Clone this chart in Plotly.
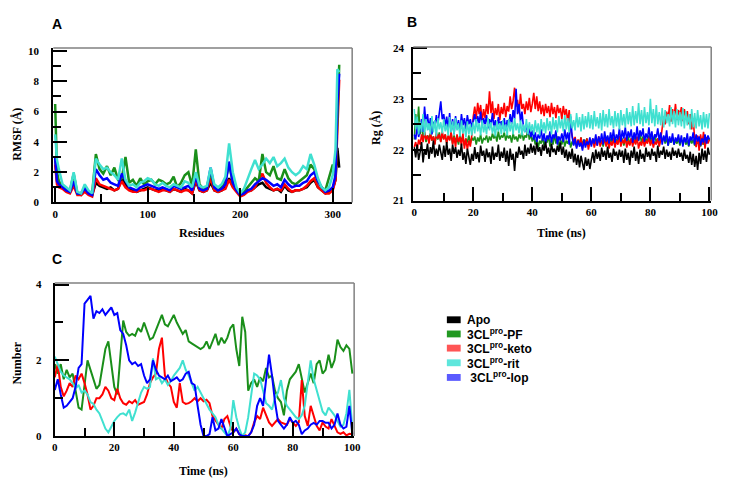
import plotly.graph_objects as go

W, H = 733, 490

# ---------------- Panel A: RMSF per residue ----------------
residues = [0, 2, 4, 8, 12, 16, 20, 24, 28, 32,
            36, 40, 44, 48, 52, 56, 60, 64, 68, 72,
            76, 80, 84, 88, 92, 96, 100, 104, 108, 112,
            116, 120, 124, 128, 132, 136, 140, 144, 148, 152,
            156, 160, 164, 168, 172, 176, 180, 184, 188, 192,
            196, 200, 204, 208, 212, 216, 220, 224, 228, 232,
            236, 240, 244, 248, 252, 256, 260, 264, 268, 272,
            276, 280, 284, 288, 292, 296, 300, 303, 305, 307]

rmsf_apo = [3.0, 1.5, 1.1, 1.0, 0.8, 0.7, 1.2, 0.6, 0.5, 0.8,
            0.6, 0.5, 1.3, 1.1, 1.0, 0.9, 1.0, 0.8, 0.9, 1.6,
            1.2, 0.9, 0.8, 0.7, 0.8, 0.9, 1.0, 0.9, 0.8, 0.8,
            0.9, 0.8, 0.7, 0.9, 0.8, 0.7, 0.9, 0.8, 0.6, 1.4,
            0.8, 0.7, 0.8, 1.3, 0.8, 0.7, 0.8, 1.0, 1.6, 1.1,
            0.8, 0.5, 0.6, 0.8, 0.8, 1.0, 1.2, 1.3, 1.0, 0.9,
            0.8, 0.9, 0.7, 1.1, 0.8, 0.7, 0.8, 0.8, 0.9, 1.0,
            1.3, 1.5, 1.0, 0.8, 0.6, 0.7, 0.9, 1.5, 3.6, 2.3]

rmsf_keto = [2.5, 1.2, 1.0, 0.9, 0.7, 0.6, 1.1, 0.5, 0.5, 0.7,
             0.5, 0.4, 1.6, 1.2, 1.1, 1.0, 0.9, 0.8, 0.9, 1.4,
             1.0, 0.8, 0.7, 0.7, 0.8, 0.8, 0.9, 0.9, 0.8, 0.7,
             0.8, 0.8, 0.7, 0.9, 0.8, 0.7, 0.8, 0.8, 0.6, 1.5,
             0.8, 0.7, 0.8, 1.6, 0.8, 0.7, 0.8, 0.9, 1.5, 1.0,
             0.7, 0.4, 0.5, 0.7, 0.8, 1.0, 1.5, 1.9, 1.3, 1.0,
             0.8, 0.9, 0.8, 1.2, 0.9, 0.7, 0.8, 0.8, 0.9, 1.1,
             1.4, 1.6, 1.0, 0.8, 0.6, 0.6, 0.8, 1.5, 5.5, 8.1]

rmsf_pf = [6.5, 2.0, 1.4, 1.1, 0.9, 0.8, 1.9, 0.6, 0.6, 1.0,
           0.7, 0.6, 3.2, 2.2, 1.9, 2.4, 1.8, 2.3, 1.5, 1.6,
           3.0, 1.3, 1.5, 1.1, 1.6, 1.2, 1.4, 1.5, 1.2, 1.5,
           1.4, 1.2, 1.3, 1.7, 1.0, 1.3, 1.8, 2.0, 1.1, 3.5,
           1.2, 0.9, 1.0, 2.0, 1.0, 0.8, 1.0, 1.5, 2.5, 1.3,
           0.9, 0.5, 0.7, 1.0, 1.3, 1.6, 1.4, 3.2, 2.0, 1.8,
           2.4, 1.6, 1.5, 2.2, 1.6, 1.3, 1.2, 1.4, 1.6, 1.8,
           2.5, 2.2, 1.4, 1.0, 0.8, 1.6, 2.5, 2.0, 6.0, 9.1]

rmsf_lop = [3.0, 1.4, 1.2, 1.0, 0.8, 0.7, 1.4, 0.6, 0.6, 0.9,
            0.6, 0.5, 2.2, 1.8, 1.5, 1.6, 1.3, 1.2, 1.1, 1.9,
            1.4, 1.0, 0.9, 0.8, 1.0, 1.1, 1.2, 1.1, 1.0, 0.9,
            1.0, 0.9, 0.8, 1.1, 1.0, 0.9, 1.0, 1.1, 0.8, 1.7,
            0.9, 0.8, 0.9, 2.3, 1.0, 0.8, 0.9, 1.2, 2.7, 1.3,
            0.8, 0.5, 0.6, 0.8, 0.9, 1.2, 1.4, 1.6, 1.5, 1.3,
            1.1, 1.2, 1.0, 1.5, 1.2, 1.0, 1.1, 1.1, 1.3, 1.4,
            1.8, 2.0, 1.4, 1.0, 0.7, 0.8, 1.0, 1.8, 6.5, 8.5]

rmsf_rit = [4.5, 2.8, 2.2, 1.2, 1.0, 0.8, 2.0, 0.7, 0.6, 1.2,
            0.8, 0.6, 2.9, 2.5, 2.2, 2.3, 2.0, 1.8, 1.5, 2.9,
            1.5, 1.1, 1.2, 1.0, 1.3, 1.4, 1.6, 1.5, 1.2, 1.1,
            1.3, 1.1, 1.0, 1.2, 1.1, 1.0, 1.4, 1.3, 1.0, 2.0,
            1.1, 1.0, 1.1, 2.3, 1.2, 1.0, 1.2, 1.7, 3.9, 2.0,
            1.0, 0.6, 0.9, 1.6, 2.2, 2.8, 2.2, 2.5, 2.9, 2.6,
            3.0, 2.4, 2.6, 2.9, 2.3, 2.0, 1.8, 2.0, 2.4, 2.2,
            3.2, 2.5, 1.6, 1.0, 0.8, 1.0, 1.8, 3.5, 8.8, 8.6]

# ---------------- Panel B: Radius of gyration (0.5 ns steps) ----------------
rg_apo = [22.05, 21.85, 22.10, 21.80, 21.95, 22.15, 21.75, 22.00, 21.90, 22.12, 21.82, 22.05, 21.92, 22.18, 21.85, 22.02, 21.88, 22.10, 21.95, 21.80,
          22.08, 21.86, 22.15, 21.90, 22.02, 21.78, 22.10, 21.92, 22.05, 21.84, 22.00, 21.88, 22.12, 21.80, 21.95, 21.72, 22.02, 21.85, 21.70, 21.92,
          21.78, 22.05, 21.82, 21.95, 21.75, 22.08, 21.88, 21.98, 21.76, 22.02, 21.85, 21.95, 21.72, 22.06, 21.80, 21.94, 21.86, 22.10, 21.78, 21.96,
          21.84, 22.04, 21.76, 21.98, 21.68, 22.02, 21.80, 21.92, 21.58, 21.96, 21.84, 22.06, 21.90, 21.98, 21.82, 22.10, 21.88, 22.04, 21.92, 22.12,
          21.94, 22.08, 21.90, 22.14, 21.96, 22.05, 21.88, 22.10, 21.98, 22.16, 21.92, 22.04, 21.86, 22.12, 21.95, 22.02, 21.90, 22.08, 21.96, 22.14,
          21.90, 22.06, 21.84, 22.00, 21.78, 21.96, 21.82, 22.02, 21.75, 21.92, 21.70, 21.90, 21.65, 21.88, 21.72, 21.60, 21.85, 21.68, 21.82, 21.62,
          21.80, 21.95, 21.74, 22.00, 21.82, 21.96, 21.78, 22.04, 21.86, 21.98, 21.80, 22.06, 21.84, 21.94, 21.76, 22.02, 21.88, 21.96, 21.80, 22.00,
          21.86, 21.98, 21.74, 22.02, 21.80, 21.94, 21.70, 21.98, 21.84, 22.06, 21.78, 21.96, 21.72, 22.00, 21.82, 21.92, 21.76, 22.04, 21.86, 21.96,
          21.80, 22.02, 21.88, 21.96, 21.76, 22.08, 21.84, 21.98, 21.90, 22.06, 21.82, 22.00, 21.86, 21.96, 21.80, 22.04, 21.88, 21.98, 21.84, 22.02,
          21.86, 21.94, 21.78, 22.00, 21.82, 21.90, 21.74, 21.96, 21.70, 21.92, 21.66, 21.88, 21.60, 21.94, 21.72, 22.02, 21.80, 21.98, 21.76, 22.04,
          21.90]

rg_keto = [22.05, 22.15, 22.00, 22.20, 22.10, 22.30, 22.15, 22.35, 22.20, 22.28, 22.12, 22.32, 22.18, 22.26, 22.10, 22.34, 22.22, 22.30, 22.15, 22.36,
           22.20, 22.30, 22.12, 22.28, 22.18, 22.35, 22.10, 22.25, 22.05, 22.30, 22.15, 22.25, 22.08, 22.32, 22.02, 22.22, 22.00, 22.18, 22.06, 22.28,
           22.65, 22.85, 22.60, 22.92, 22.70, 22.88, 22.55, 22.80, 22.62, 22.90, 22.70, 23.15, 22.72, 22.95, 22.60, 22.82, 22.68, 22.90, 22.58, 22.84,
           22.70, 22.92, 22.64, 22.86, 22.75, 23.05, 22.80, 22.96, 23.22, 22.85, 22.98, 22.72, 23.10, 22.80, 22.90, 22.70, 22.95, 22.78, 23.02, 22.74,
           22.90, 23.12, 22.80, 23.05, 22.76, 22.95, 22.70, 22.88, 22.66, 22.90, 22.72, 22.86, 22.64, 22.92, 22.70, 22.84, 22.62, 22.88, 22.72, 22.82,
           22.60, 22.86, 22.68, 22.80, 22.55, 22.78, 22.40, 22.30, 22.15, 22.25, 22.05, 22.20, 22.10, 22.24, 22.02, 22.18, 22.08, 22.22, 22.00, 22.16,
           22.10, 22.22, 22.04, 22.18, 22.08, 22.26, 22.06, 22.18, 22.12, 22.24, 22.06, 22.20, 22.02, 22.16, 22.08, 22.22, 22.04, 22.18, 22.10, 22.26,
           22.06, 22.20, 22.12, 22.24, 22.04, 22.18, 22.08, 22.22, 22.06, 22.20, 22.10, 22.26, 22.02, 22.16, 22.08, 22.22, 22.06, 22.18, 22.12, 22.24,
           22.08, 22.20, 22.04, 22.16, 22.10, 22.22, 22.06, 22.20, 22.40, 22.65, 22.50, 22.75, 22.60, 22.88, 22.55, 22.80, 22.62, 22.90, 22.58, 22.78,
           22.66, 22.84, 22.56, 22.80, 22.64, 22.76, 22.50, 22.70, 22.40, 22.62, 22.20, 22.05, 22.28, 21.98, 22.30, 22.10, 22.35, 22.02, 22.25, 22.12,
           22.20]

rg_lop = [22.30, 22.20, 22.45, 22.25, 22.40, 22.60, 22.35, 22.85, 22.50, 22.70, 22.40, 22.62, 22.30, 22.55, 22.45, 22.68, 22.50, 22.75, 22.95, 22.60,
          22.70, 22.45, 22.65, 22.40, 22.72, 22.35, 22.60, 22.30, 22.66, 22.42, 22.58, 22.36, 22.70, 22.48, 22.62, 22.40, 22.68, 22.50, 22.60, 22.44,
          22.55, 22.70, 22.48, 22.66, 22.52, 22.75, 22.45, 22.62, 22.50, 22.68, 22.42, 22.60, 22.48, 22.72, 22.44, 22.58, 22.40, 22.64, 22.46, 22.56,
          22.42, 22.62, 22.38, 22.58, 22.45, 22.70, 22.50, 22.78, 22.60, 23.20, 22.70, 22.90, 22.55, 22.75, 22.45, 22.35, 22.50, 22.30, 22.42, 22.25,
          22.38, 22.20, 22.34, 22.15, 22.30, 22.22, 22.40, 22.18, 22.32, 22.12, 22.28, 22.20, 22.36, 22.14, 22.30, 22.22, 22.38, 22.10, 22.26, 22.18,
          22.32, 22.15, 22.40, 22.20, 22.34, 22.10, 22.65, 22.25, 22.08, 22.22, 22.02, 22.18, 22.06, 22.14, 21.98, 22.20, 22.04, 22.16, 22.10, 22.24,
          22.06, 22.22, 22.12, 22.30, 22.08, 22.26, 22.14, 22.32, 22.10, 22.36, 22.16, 22.28, 22.12, 22.34, 22.18, 22.40, 22.14, 22.30, 22.20, 22.42,
          22.16, 22.38, 22.22, 22.44, 22.18, 22.36, 22.24, 22.40, 22.14, 22.34, 22.20, 22.46, 22.18, 22.38, 22.26, 22.42, 22.16, 22.32, 22.22, 22.44,
          22.20, 22.36, 22.12, 22.30, 22.24, 22.42, 22.18, 22.34, 22.10, 22.28, 22.16, 22.38, 22.08, 22.26, 22.14, 22.32, 22.10, 22.24, 22.16, 22.30,
          22.12, 22.28, 22.06, 22.24, 22.14, 22.32, 22.08, 22.26, 22.18, 22.34, 22.10, 22.30, 22.16, 22.26, 22.08, 22.22, 22.14, 22.30, 22.12, 22.28,
          22.20]

rg_pf = [22.20, 22.70, 22.40, 22.85, 22.30, 22.55, 22.20, 22.35, 22.15, 22.28, 22.22, 22.32, 22.18, 22.26, 22.12, 22.30, 22.20, 22.34, 22.16, 22.28,
         22.22, 22.30, 22.14, 22.26, 22.20, 22.32, 22.12, 22.28, 22.18, 22.24, 22.10, 22.30, 22.16, 22.26, 22.08, 22.22, 22.14, 22.28, 22.12, 22.24,
         22.18, 22.26, 22.10, 22.24, 22.16, 22.30, 22.12, 22.22, 22.20, 22.28, 22.14, 22.26, 22.18, 22.32, 22.22, 22.30, 22.16, 22.36, 22.20, 22.28,
         22.24, 22.34, 22.18, 22.30, 22.22, 22.28, 22.14, 22.32, 22.20, 22.26, 22.16, 22.30, 22.22, 22.36, 22.18, 22.28, 22.24, 22.40, 22.20, 22.30,
         22.16, 22.26, 22.10, 22.22, 22.04, 22.18, 22.12, 22.24, 22.08, 22.20, 22.14, 22.28, 22.06, 22.22, 22.10, 22.30, 22.12, 22.26, 22.04, 22.20,
         22.10, 22.24, 22.06, 22.18, 22.12, 22.22, 22.04, 22.16, 22.10, 22.20, 22.06, 22.18, 22.12, 22.24, 22.08, 22.20, 22.14, 22.22, 22.06, 22.18,
         22.12, 22.20, 22.08, 22.24, 22.14, 22.22, 22.10, 22.18, 22.06, 22.20, 22.12, 22.26, 22.08, 22.22, 22.14, 22.24, 22.10, 22.20, 22.16, 22.26,
         22.12, 22.22, 22.08, 22.20, 22.14, 22.26, 22.10, 22.22, 22.16, 22.28, 22.12, 22.24, 22.18, 22.30, 22.14, 22.26, 22.10, 22.22, 22.16, 22.28,
         22.12, 22.24, 22.18, 22.30, 22.14, 22.22, 22.10, 22.20, 22.16, 22.26, 22.12, 22.22, 22.08, 22.20, 22.14, 22.24, 22.10, 22.18, 22.12, 22.22,
         22.08, 22.20, 22.14, 22.24, 22.10, 22.18, 22.06, 22.22, 22.12, 22.20, 22.08, 22.16, 22.12, 22.22, 22.06, 22.18, 22.10, 22.20, 22.14, 22.24,
         22.18]

rg_rit = [22.80, 22.40, 22.65, 22.30, 22.55, 22.35, 22.70, 22.28, 22.60, 22.38, 22.52, 22.30, 22.66, 22.34, 22.58, 22.26, 22.62, 22.40, 22.54, 22.32,
          22.60, 22.36, 22.50, 22.28, 22.64, 22.34, 22.56, 22.30, 22.62, 22.38, 22.52, 22.26, 22.58, 22.32, 22.48, 22.24, 22.56, 22.30, 22.50, 22.28,
          22.54, 22.32, 22.60, 22.36, 22.52, 22.28, 22.58, 22.34, 22.50, 22.30, 22.62, 22.38, 22.54, 22.32, 22.48, 22.26, 22.56, 22.36, 22.52, 22.30,
          22.58, 22.34, 22.50, 22.28, 22.60, 22.36, 22.54, 22.30, 22.62, 22.38, 22.52, 22.32, 22.58, 22.28, 22.50, 22.34, 22.60, 22.30, 22.54, 22.36,
          22.50, 22.30, 22.58, 22.34, 22.52, 22.28, 22.60, 22.36, 22.54, 22.32, 22.62, 22.38, 22.56, 22.30, 22.64, 22.40, 22.58, 22.34, 22.66, 22.42,
          22.60, 22.36, 22.68, 22.40, 22.62, 22.34, 22.70, 22.42, 22.58, 22.38, 22.72, 22.44, 22.64, 22.36, 22.70, 22.40, 22.66, 22.44, 22.74, 22.42,
          22.68, 22.40, 22.76, 22.46, 22.64, 22.42, 22.72, 22.38, 22.78, 22.46, 22.70, 22.44, 22.80, 22.48, 22.66, 22.42, 22.76, 22.46, 22.72, 22.40,
          22.78, 22.48, 22.70, 22.44, 22.82, 22.50, 22.74, 22.46, 22.86, 22.48, 22.76, 22.52, 22.92, 22.50, 22.78, 22.46, 22.84, 22.52, 22.74, 22.48,
          23.00, 22.52, 22.80, 22.46, 22.88, 22.50, 22.74, 22.48, 22.82, 22.44, 22.78, 22.52, 22.70, 22.46, 22.84, 22.50, 22.76, 22.44, 22.80, 22.48,
          22.74, 22.46, 22.82, 22.42, 22.76, 22.48, 22.70, 22.40, 22.80, 22.44, 22.72, 22.42, 22.78, 22.46, 22.68, 22.40, 22.74, 22.44, 22.70, 22.42,
          22.72]

# ---------------- Panel C: H-bond number (1 ns steps) ----------------
hb_pf = [1.9, 1.65, 1.9, 1.5, 1.75, 1.55, 1.65, 1.2, 0.75, 0.7,
         1.3, 2.0, 1.75, 1.5, 1.25, 1.35, 1.8, 2.3, 2.5, 1.9,
         1.3, 1.1, 2.2, 3.05, 2.75, 2.65, 2.7, 2.65, 2.85, 2.75,
         3.0, 2.75, 2.55, 2.6, 2.8, 2.95, 3.2, 2.95, 2.9, 3.05,
         3.2, 3.0, 2.85, 2.7, 2.8, 2.5, 2.45, 2.4, 2.35, 2.3,
         2.35, 2.5, 2.3, 2.5, 2.7, 2.4, 2.6, 2.45, 2.6, 2.85,
         2.95, 2.3, 1.85, 3.15, 2.75, 1.2, 1.4, 1.5, 1.3, 1.55,
         1.45, 1.8, 1.55, 1.6, 1.2, 1.0, 0.9, 0.55, 1.2, 1.5,
         1.6, 1.7, 1.9, 1.5, 1.15, 1.4, 1.65, 1.4, 1.9, 2.0,
         1.65, 1.75, 2.15, 1.8, 2.0, 2.55, 2.35, 2.25, 2.4, 2.3,
         1.65]

hb_keto = [1.55, 1.9, 1.3, 1.05, 1.2, 1.4, 1.3, 1.6, 1.5, 1.65,
           1.4, 1.1, 0.7, 0.8, 1.0, 1.0, 1.1, 1.3, 1.2, 1.0,
           0.95, 1.25, 1.0, 0.87, 0.83, 0.92, 0.87, 0.95, 0.83, 0.87,
           0.9, 1.1, 1.4, 1.55, 1.65, 2.3, 2.6, 1.6, 1.4, 1.3,
           0.9, 0.75, 1.4, 0.9, 0.85, 0.87, 0.92, 1.0, 0.92, 1.0,
           0.92, 0.96, 0.87, 0.53, 0.4, 0.3, 0.2, 0.45, 0.53, 0.27,
           0.1, 0.2, 0.05, 0.0, 0.02, 0.0, 0.1, 0.36, 0.53, 0.45,
           0.75, 0.57, 0.36, 0.27, 0.36, 0.45, 0.36, 0.32, 0.3, 0.45,
           0.36, 0.27, 0.36, 1.48, 0.53, 0.27, 0.8, 0.53, 0.27, 0.15,
           0.36, 0.25, 0.2, 0.45, 0.27, 0.1, 0.06, 0.1, 0.02, 0.06,
           0.05]

hb_rit = [2.1, 1.9, 1.7, 1.6, 1.55, 1.5, 1.4, 1.25, 1.35, 1.15,
          1.2, 1.1, 0.9, 0.85, 0.7, 0.6, 0.4, 0.2, 0.1, 0.25,
          0.4, 0.5, 0.58, 0.6, 0.55, 0.7, 0.4, 0.62, 0.87, 1.15,
          1.3, 1.25, 1.3, 2.05, 1.5, 1.55, 1.4, 1.5, 1.35, 1.45,
          1.6, 1.7, 1.8, 2.0, 1.75, 1.6, 1.4, 1.2, 1.3, 1.15,
          1.0, 0.85, 0.7, 0.6, 0.5, 0.3, 0.2, 0.1, 0.0, 0.2,
          0.95, 0.5, 0.2, 0.0, 0.1, 0.5, 1.1, 1.65, 1.6, 1.5,
          1.2, 0.87, 0.8, 0.7, 1.0, 1.15, 1.48, 1.0, 0.8, 0.7,
          0.6, 0.5, 0.45, 0.55, 0.8, 1.4, 2.0, 1.5, 1.2, 0.9,
          0.65, 0.55, 0.75, 0.65, 0.55, 0.4, 0.25, 0.3, 0.6, 1.22,
          0.2]

hb_lop = [1.22, 1.5, 1.1, 0.75, 0.8, 0.9, 1.0, 1.3, 1.8, 1.9,
          3.5, 3.6, 3.7, 3.1, 3.3, 3.25, 3.35, 3.2, 3.3, 3.4,
          3.2, 3.25, 2.8, 2.7, 2.4, 2.0, 1.9, 1.95, 1.85, 1.9,
          1.6, 1.4, 1.5, 2.0, 1.75, 1.6, 1.55, 1.5, 1.6, 1.45,
          1.5, 1.55, 1.45, 1.5, 1.65, 1.7, 1.4, 1.35, 0.8, 0.3,
          0.0, 0.0, 0.05, 0.5, 0.15, 0.2, 0.45, 0.2, 0.0, 0.05,
          0.1, 0.2, 0.05, 0.0, 0.0, 0.0, 0.1, 0.3, 0.8, 1.0,
          0.8, 1.4, 2.15, 1.6, 0.9, 0.4, 0.3, 0.2, 0.3, 0.5,
          0.35, 0.4, 0.3, 0.05, 0.15, 0.2, 0.3, 0.35, 0.3, 0.4,
          0.4, 0.35, 0.35, 0.2, 0.3, 0.6, 0.3, 0.2, 0.25, 0.8,
          0.05]

series_names = ["Apo", "3CL<sup>pro</sup>-PF", "3CL<sup>pro</sup>-keto",
                "3CL<sup>pro</sup>-rit", " 3CL<sup>pro</sup>-lop"]
line_colors = {"apo": "#000000", "pf": "#1a8f1a", "keto": "#ff0000",
               "rit": "#40e0d0", "lop": "#0000ff"}
legend_colors = ["#000000", "#229922", "#ff5555", "#5ee6dc", "#5a5aff"]


def px(x):
    return x / W


def py(y):
    return 1 - y / H


fig = go.Figure()

# Panel A
for vals, key in [(rmsf_apo, "apo"), (rmsf_keto, "keto"), (rmsf_pf, "pf"),
                  (rmsf_lop, "lop"), (rmsf_rit, "rit")]:
    fig.add_trace(go.Scatter(x=residues, y=vals, mode="lines",
                             line=dict(color=line_colors[key], width=2.5),
                             xaxis="x", yaxis="y", showlegend=False))

# Panel B
for vals, key in [(rg_pf, "pf"), (rg_keto, "keto"), (rg_lop, "lop"),
                  (rg_rit, "rit"), (rg_apo, "apo")]:
    t = [0.5 * i for i in range(len(vals))]
    fig.add_trace(go.Scatter(x=t, y=vals, mode="lines",
                             line=dict(color=line_colors[key], width=1.6),
                             xaxis="x2", yaxis="y2", showlegend=False))

# Panel C
for vals, key in [(hb_pf, "pf"), (hb_keto, "keto"), (hb_rit, "rit"), (hb_lop, "lop")]:
    t = list(range(len(vals)))
    fig.add_trace(go.Scatter(x=t, y=vals, mode="lines",
                             line=dict(color=line_colors[key], width=2),
                             xaxis="x3", yaxis="y3", showlegend=False))

tickfont = dict(family="Liberation Serif", size=11, color="black", weight="bold")


def ax(domain, rng, dtick, minor_dtick, tick0, anchor, standoff=None):
    d = dict(domain=domain, range=rng, dtick=dtick, tick0=tick0,
             showgrid=False, zeroline=False, showline=True,
             linecolor="black", linewidth=2, ticks="inside",
             ticklen=14, tickwidth=2, tickcolor="black",
             minor=dict(dtick=minor_dtick, tick0=tick0, ticks="inside",
                        ticklen=8, tickwidth=2, tickcolor="black", showgrid=False),
             tickfont=tickfont, anchor=anchor, fixedrange=True)
    if standoff is not None:
        d["ticklabelstandoff"] = standoff
    return d


fig.update_layout(
    width=W, height=H, autosize=False,
    margin=dict(l=0, r=0, t=0, b=0),
    paper_bgcolor="white", plot_bgcolor="white",
    showlegend=False,
    xaxis=ax([px(51), px(354)], [-2, 321], 100, 50, 0, "y"),
    yaxis=ax([py(202), py(44)], [0, 10.2], 2, 1, 0, "x", standoff=10),
    xaxis2=ax([px(416), px(718)], [-0.3, 100.6], 20, 10, 0, "y2"),
    yaxis2=ax([py(200), py(43)], [21, 24.02], 1, 0.5, 21, "x2", standoff=5),
    xaxis3=ax([px(52.5), px(356)], [0, 100.6], 20, 10, 0, "y3"),
    yaxis3=ax([py(441), py(284.5)], [0, 4.04], 2, 1, 0, "x3", standoff=9),
)

shapes = []
for xa, ya in [("x", "y"), ("x2", "y2"), ("x3", "y3")]:
    shapes.append(dict(type="line", xref=f"{xa} domain", yref=f"{ya} domain",
                       x0=0, x1=1, y0=1, y1=1, line=dict(color="#808080", width=1.5)))
    shapes.append(dict(type="line", xref=f"{xa} domain", yref=f"{ya} domain",
                       x0=1, x1=1, y0=0, y1=1, line=dict(color="#808080", width=1.5)))

# legend swatches
legend_rows = [322, 336.5, 351, 366, 381]
for yy, col in zip(legend_rows, legend_colors):
    shapes.append(dict(type="rect", xref="paper", yref="paper",
                       x0=px(450), x1=px(464), y0=py(yy + 3.5), y1=py(yy - 3.5),
                       fillcolor=col, line=dict(width=0)))
fig.update_layout(shapes=shapes)

title_font = dict(family="Liberation Serif", size=12, color="black", weight="bold")
panel_font = dict(family="Liberation Sans", size=14, color="black", weight="bold")
legend_font = dict(family="Liberation Sans", size=12, color="black", weight="bold")

annotations = [
    dict(text="A", x=px(55), y=py(19), font=panel_font),
    dict(text="B", x=px(415), y=py(17), font=panel_font),
    dict(text="C", x=px(55), y=py(260), font=panel_font),
    dict(text="RMSF (Å)", x=px(14), y=py(132), textangle=-90, font=title_font),
    dict(text="Residues", x=px(202), y=py(233), font=title_font),
    dict(text="Rg (Å)", x=px(378), y=py(126), textangle=-90, font=title_font),
    dict(text="Time (ns)", x=px(566), y=py(233), font=title_font),
    dict(text="Number", x=px(14), y=py(366), textangle=-90, font=title_font),
    dict(text="Time (ns)", x=px(203), y=py(477), font=title_font),
]
for a in annotations:
    a.update(xref="paper", yref="paper", showarrow=False, xanchor="center", yanchor="middle")

for yy, name in zip(legend_rows, series_names):
    annotations.append(dict(text=name, x=px(468), y=py(yy), xref="paper", yref="paper",
                            showarrow=False, xanchor="left", yanchor="middle",
                            font=legend_font))
fig.update_layout(annotations=annotations)

fig.write_html("out.html", config={"displayModeBar": False},
               post_script="document.body.style.margin='0';")
